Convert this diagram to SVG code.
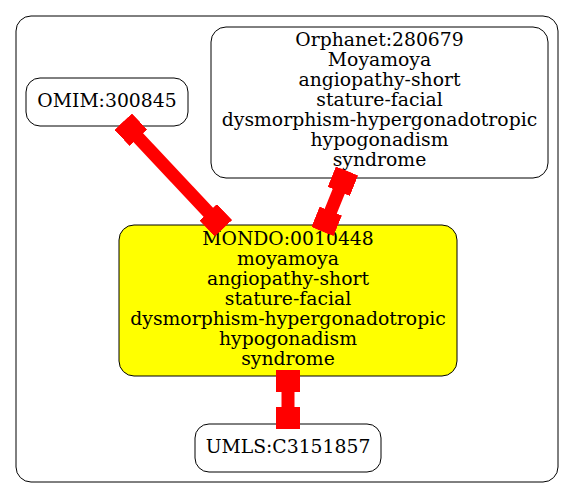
<svg xmlns="http://www.w3.org/2000/svg" width="576" height="499" viewBox="0 0 576 499">
<style>
.node rect{fill:#fff;stroke:#000;stroke-width:1}
#mondo rect{fill:#ffff00}
text{font-family:"DejaVu Serif","Liberation Serif",serif;font-size:18.8px;fill:#000;text-anchor:middle}
.edge{stroke:#ff0000;stroke-width:13;fill:none;marker-start:url(#bx);marker-end:url(#bx)}
</style>
<defs>
<marker id="bx" markerUnits="userSpaceOnUse" viewBox="0 0 22 24" markerWidth="22" markerHeight="24" refX="22" refY="12" orient="auto-start-reverse">
<rect x="0" y="0" width="22" height="24" fill="#ff0000"/>
</marker>
</defs>
<rect x="16" y="16" width="542" height="466" rx="15" fill="#fff" stroke="#000" stroke-width="1"/>
<g id="omim" class="node">
<rect x="26" y="78" width="162" height="48" rx="14"/>
<text x="107" y="107">OMIM:300845</text>
</g>
<g id="orphanet" class="node">
<rect x="211" y="27" width="337" height="151" rx="15"/>
<text x="379.5" y="46">Orphanet:280679</text>
<text x="379.5" y="66">Moyamoya</text>
<text x="379.5" y="86">angiopathy-short</text>
<text x="379.5" y="106">stature-facial</text>
<text x="379.5" y="126">dysmorphism-hypergonadotropic</text>
<text x="379.5" y="146">hypogonadism</text>
<text x="379.5" y="166">syndrome</text>
</g>
<g id="mondo" class="node">
<rect x="119" y="225" width="338" height="151" rx="15"/>
<text x="288" y="245">MONDO:0010448</text>
<text x="288" y="265">moyamoya</text>
<text x="288" y="285">angiopathy-short</text>
<text x="288" y="305">stature-facial</text>
<text x="288" y="325">dysmorphism-hypergonadotropic</text>
<text x="288" y="345">hypogonadism</text>
<text x="288" y="365">syndrome</text>
</g>
<g id="umls" class="node">
<rect x="195" y="424" width="186" height="48" rx="14"/>
<text x="288" y="453">UMLS:C3151857</text>
</g>
<g id="edges">
<path class="edge" d="M123.3,121.7 L223.3,228.3"/>
<path class="edge" d="M347,171 L322.5,231.5"/>
<path class="edge" d="M288,370 L288,429"/>
</g>
</svg>
